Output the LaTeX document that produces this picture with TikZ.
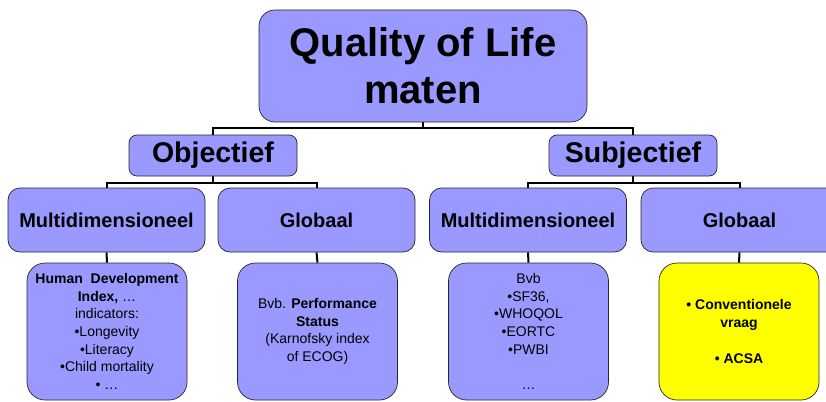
\documentclass[tikz,border=0pt]{standalone}
\usepackage{fontspec}
\setmainfont{Liberation Sans}
\usetikzlibrary{calc,backgrounds}
\definecolor{boxblue}{RGB}{153,153,255}
\definecolor{boxyellow}{RGB}{255,255,0}
\begin{document}
\begin{tikzpicture}[x=1pt,y=-1pt,
  box/.style={draw=black!85, line width=0.7pt, fill=boxblue, inner sep=0pt, align=center, text=black},
  lvl0/.style={box, rounded corners=16pt, minimum width=328pt, minimum height=112pt, font=\fontsize{40}{47}\selectfont\bfseries},
  lvl1/.style={box, rounded corners=8pt, minimum width=168pt, minimum height=41pt, font=\fontsize{28.5}{32}\selectfont\bfseries},
  lvl2/.style={box, rounded corners=12pt, minimum width=197pt, minimum height=64pt, font=\fontsize{20}{24}\selectfont\bfseries},
  lvl3/.style={box, rounded corners=18pt, minimum width=160pt, minimum height=137pt, font=\fontsize{14}{17.7}\selectfont},
  conn/.style={draw=black, line width=2pt}
]
\useasboundingbox (0,0) rectangle (826,401);
\clip (0,0) rectangle (826,401);

% nodes
\node[lvl0] (q) at (423,66) {Quality of Life\\maten};
\node[lvl1] (obj) at (213,155.5) {Objectief};
\node[lvl1] (subj) at (633,155.5) {Subjectief};
\node[lvl2] (om) at (106.5,220) {Multidimensioneel};
\node[lvl2] (og) at (316.5,220) {Globaal};
\node[lvl2] (sm) at (528,220) {Multidimensioneel};
\node[lvl2] (sg) at (739.5,220) {Globaal};
\node[lvl3] (omt) at (107,331.5) {\textbf{Human\ \ Development}\\\textbf{Index,} \dots\\indicators:\\•Longevity\\•Literacy\\•Child mortality\\• \dots};
\node[lvl3] (ogt) at (317.5,331.5) {Bvb. \textbf{Performance}\\\textbf{Status}\\(Karnofsky index\\of ECOG)};
\node[lvl3] (smt) at (528.5,331.5) {Bvb\\•SF36,\\•WHOQOL\\•EORTC\\•PWBI\\[17.7pt]\dots};
\node[lvl3, fill=boxyellow] (sgt) at (739,331.5) {\textbf{• Conventionele}\\\textbf{vraag}\\[17.7pt]\textbf{• ACSA}};

% connectors
\begin{scope}[on background layer]
  \coordinate (qj) at ($(q.south)+(0,6)$);
  \draw[conn] (obj.north) |- (qj) -| (subj.north);
  \draw[conn] (q.south) -- (qj);
  \coordinate (oj) at ($(obj.south)+(0,7)$);
  \draw[conn] (om.north) |- (oj) -| (og.north);
  \draw[conn] (obj.south) -- (oj);
  \coordinate (sj) at ($(subj.south)+(0,7)$);
  \draw[conn] (sm.north) |- (sj) -| (sg.north);
  \draw[conn] (subj.south) -- (sj);
  \draw[conn] (om.south) -- (omt.north);
  \draw[conn] (og.south) -- (ogt.north);
  \draw[conn] (sm.south) -- (smt.north);
  \draw[conn] (sg.south) -- (sgt.north);
\end{scope}
\end{tikzpicture}
\end{document}
